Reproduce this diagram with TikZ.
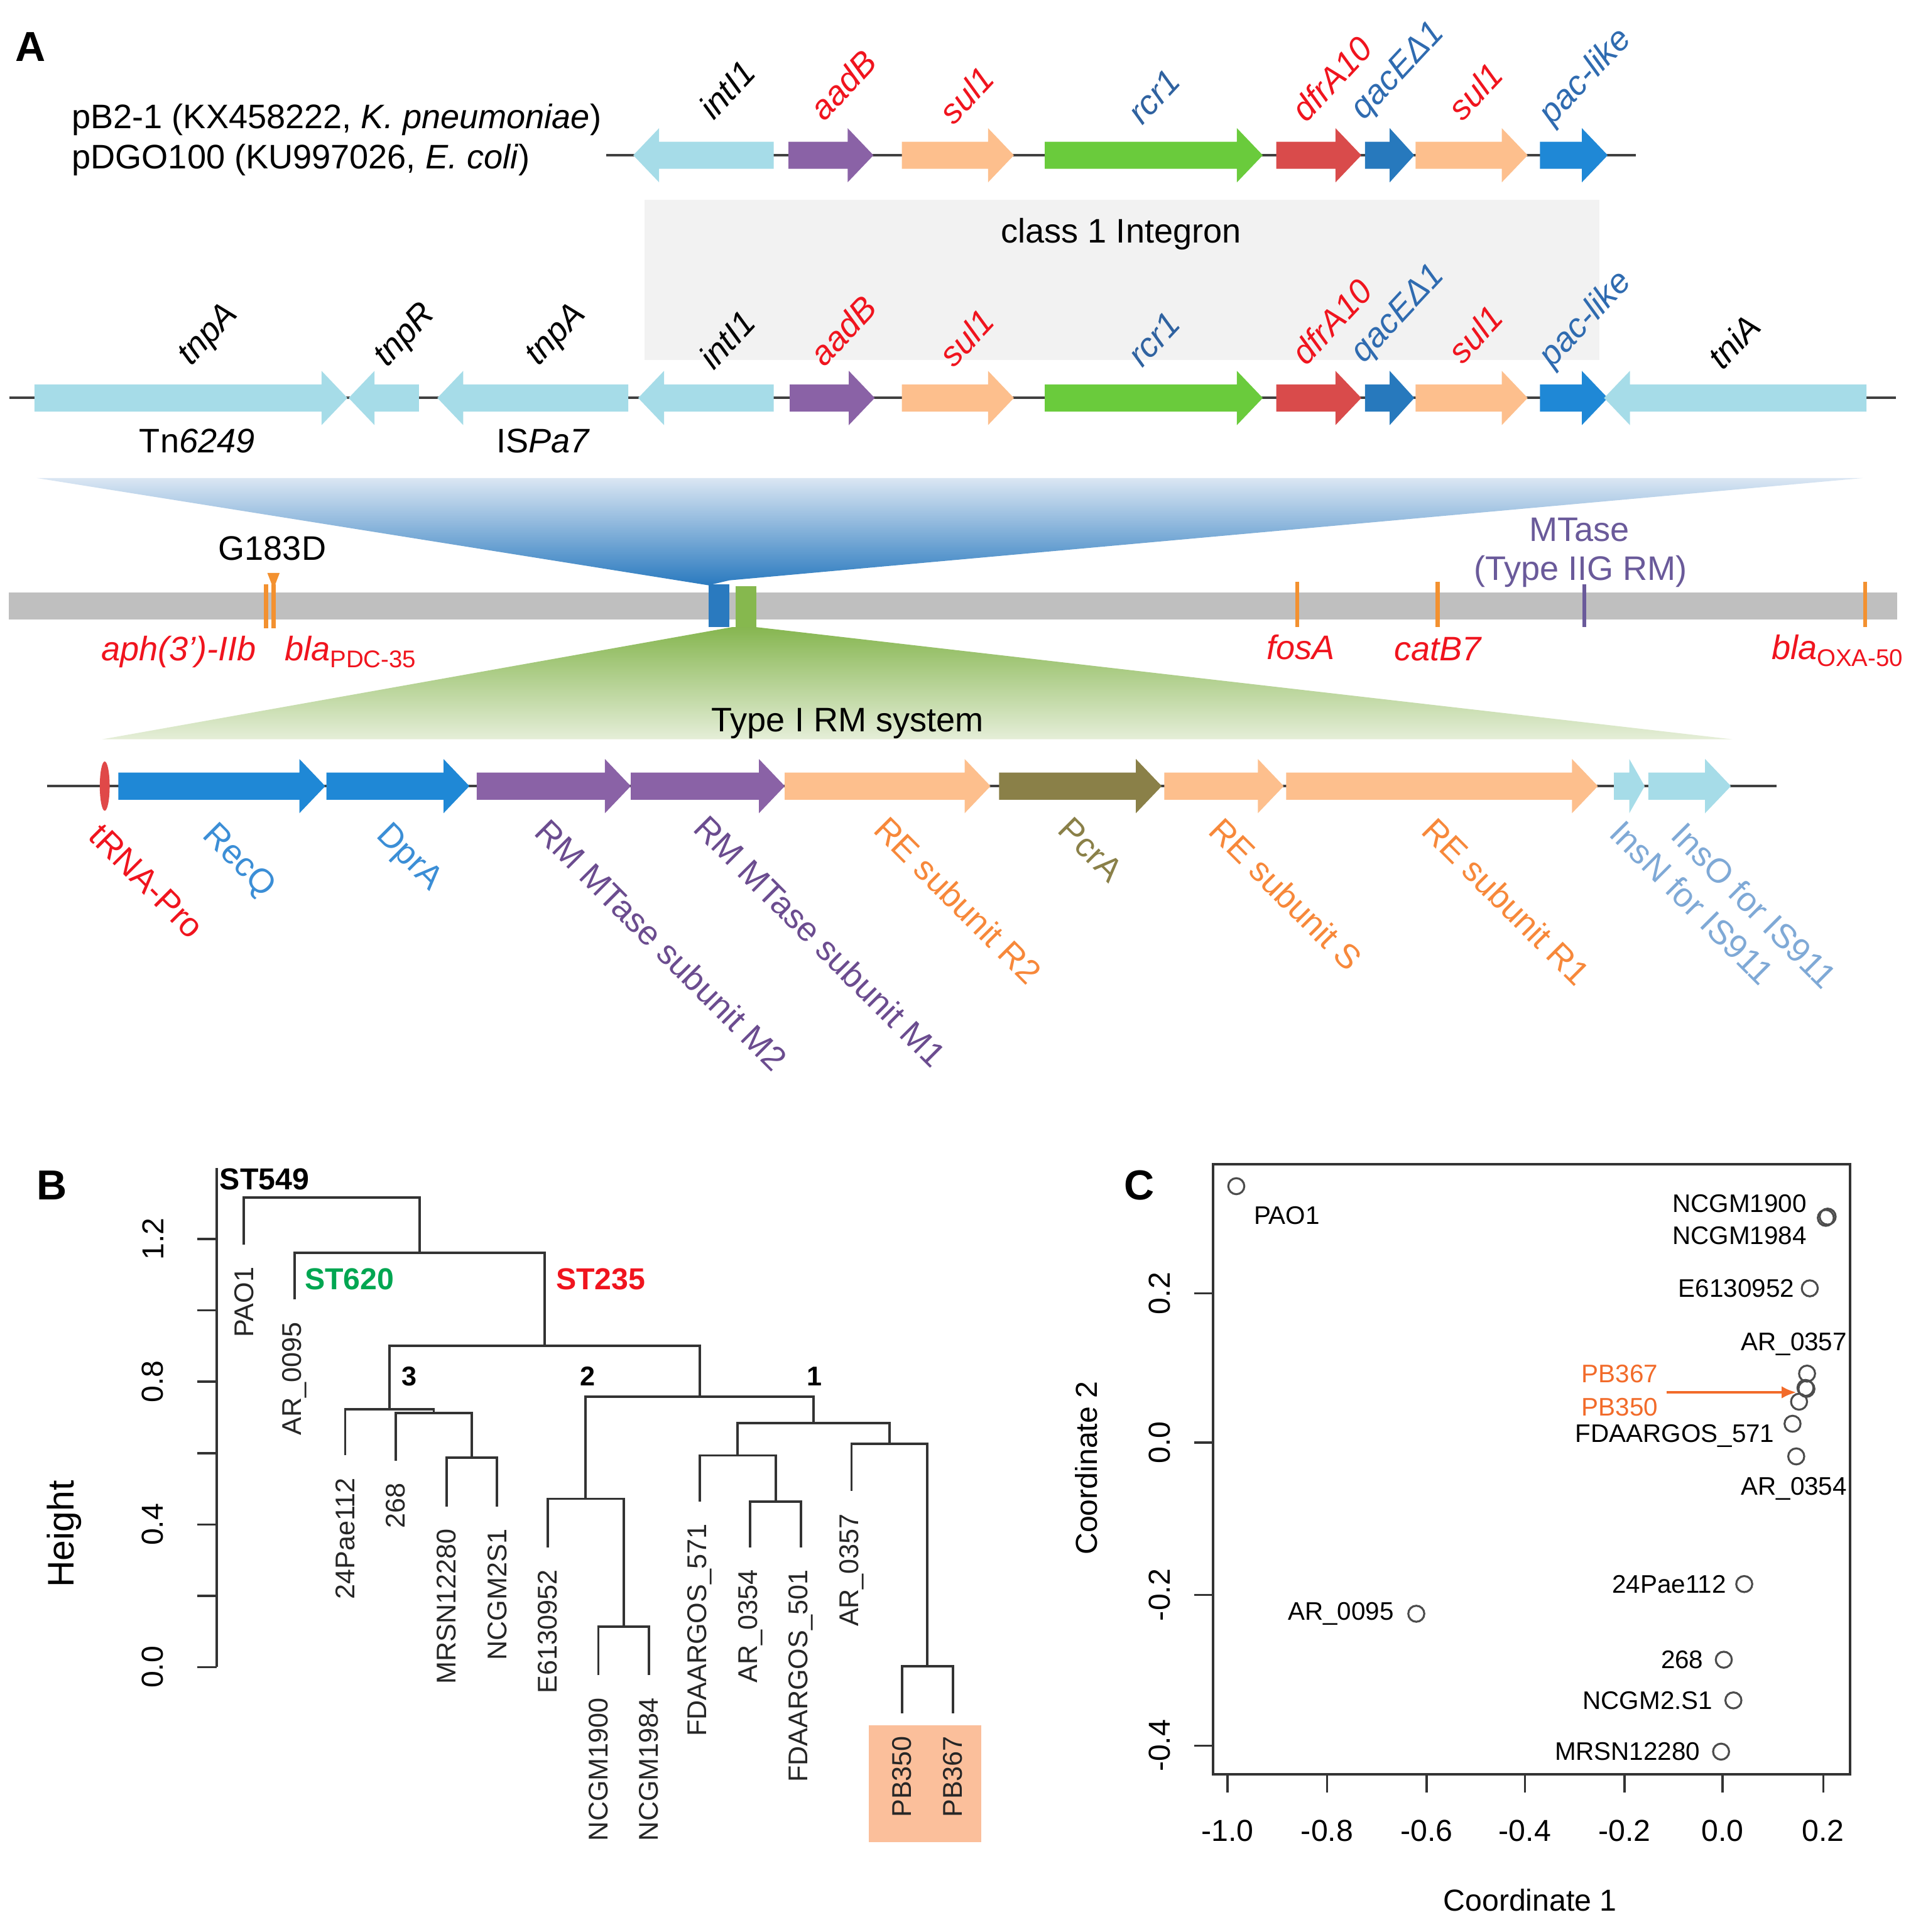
\documentclass[tikz,border=0pt]{standalone}
\usepackage{fontspec}
\setmainfont{Liberation Sans}
\usetikzlibrary{arrows.meta}
\definecolor{glb}{HTML}{A6DCE8}
\definecolor{gpu}{HTML}{8A62A6}
\definecolor{gor}{HTML}{FDBF8D}
\definecolor{ggr}{HTML}{6ACB3C}
\definecolor{grd}{HTML}{D94B4B}
\definecolor{gqb}{HTML}{2779BD}
\definecolor{gbl}{HTML}{1F88D6}
\definecolor{gol}{HTML}{8A8048}
\definecolor{tred}{HTML}{F0141E}
\definecolor{tsb}{HTML}{2F62A0}
\definecolor{tsq}{HTML}{2F6BB0}
\definecolor{tbl}{HTML}{3B8ED6}
\definecolor{tpu}{HTML}{6B4C8F}
\definecolor{tor}{HTML}{F7883A}
\definecolor{tib}{HTML}{7FA9D6}
\definecolor{tkor}{HTML}{F39130}
\definecolor{mtp}{HTML}{6A5A9A}
\definecolor{bargray}{HTML}{BFBFBF}
\definecolor{boxgray}{HTML}{F2F2F2}
\definecolor{stg}{HTML}{00A651}
\definecolor{salmon}{HTML}{FBBF9B}
\definecolor{ptor}{HTML}{F26B2A}
\definecolor{fbtop}{HTML}{DAE6F3}
\definecolor{fbbot}{HTML}{2A7ABF}
\definecolor{fgtop}{HTML}{86B650}
\definecolor{fgbot}{HTML}{E5EED8}
\definecolor{bargreen}{HTML}{86B84E}
\definecolor{trna}{HTML}{E04848}
\newcommand\fsA{\fontsize{13.8pt}{16pt}\selectfont}
\newcommand\fsB{\fontsize{11pt}{13pt}\selectfont}
\newcommand\fsC{\fontsize{10.3pt}{12pt}\selectfont}
\newcommand\fsT{\fontsize{12.3pt}{14pt}\selectfont}
\newcommand\fsP{\fontsize{17pt}{20pt}\selectfont}
\newcommand\gsub[1]{\raisebox{-3pt}{\fontsize{9.8pt}{11pt}\selectfont #1}}
\newcommand\gene[4]{%
 \pgfmathsetmacro\gdir{(#2>#1)?1:-1}%
 \pgfmathsetmacro\hx{#2-\gdir*min(21,0.5*abs(#2-#1))}%
 \fill[#4] (#1,#3-11) -- (\hx,#3-11) -- (\hx,#3-22) -- (#2,#3) -- (\hx,#3+22) -- (\hx,#3+11) -- (#1,#3+11) -- cycle;}
\newcommand\dmerge[5]{\draw[dend] (#1,#2) -- (#1,#5) -- (#3,#5) -- (#3,#4);}
\begin{document}
\begin{tikzpicture}[x=0.5pt,y=-0.5pt,
  glab/.style={font=\fsA\itshape, anchor=base west, rotate=47, inner sep=0, xshift=3pt},
  rlab/.style={font=\fsA, anchor=north west, rotate=-45, inner sep=0},
  dna/.style={line width=1pt, black!75},
  tk/.style={line width=1.6pt, tkor},
  dend/.style={line width=1pt, black!80},
  lf/.style={font=\fsB, rotate=90, anchor=east, inner sep=0, text=black!85},
  axl/.style={line width=0.9pt, black!80},
  tkl/.style={font=\fsT, inner sep=0},
  pt/.style={circle, draw=black!70, line width=0.8pt, minimum size=6.5pt, inner sep=0},
  cl/.style={font=\fsC, inner sep=0},
  panel/.style={font=\fsP\bfseries, inner sep=0}]
\useasboundingbox (0,0) rectangle (1551,1568);
\fill[white] (0,0) rectangle (1551,1568);

% ---------------- Panel A ----------------
\node[panel] (lA) at (25,38) {A};
\node[anchor=west, font=\fsA, inner sep=0] (pb21) at (58,97) {pB2-1 (KX458222, \textit{K. pneumoniae})};
\node[anchor=west, font=\fsA, inner sep=0] (pdgo) at (58,130) {pDGO100 (KU997026, \textit{E. coli})};

% integron box
\fill[boxgray] (523,162) rectangle (1298,292);
\node[font=\fsA] (integ) at (910,190) {class 1 Integron};

% top row
\draw[dna] (492,126) -- (1328,126);
\gene{628}{514}{126}{glb}
\gene{640}{709}{126}{gpu}
\gene{732}{823}{126}{gor}
\gene{848}{1025}{126}{ggr}
\gene{1036}{1105}{126}{grd}
\gene{1108}{1148}{126}{gqb}
\gene{1149}{1240}{126}{gor}
\gene{1250}{1305}{126}{gbl}
\node[glab] (a1) at (575,103) {intI1};
\node[glab, text=tred] (a2) at (665,104) {aadB};
\node[glab, text=tred] (a3) at (770,107) {sul1};
\node[glab, text=tsb] (a4) at (923,107) {rcr1};
\node[glab, text=tred] (a5) at (1056,105) {dfrA10};
\node[glab, text=tsq] (a6) at (1103,103) {qacEΔ1};
\node[glab, text=tred] (a7) at (1183,104) {sul1};
\node[glab, text=tsq] (a8) at (1256,107) {pac-like};

% second row
\draw[dna] (7.5,323) -- (1539,323);
\gene{28}{282}{323}{glb}
\gene{340}{283}{323}{glb}
\gene{510}{355}{323}{glb}
\gene{628}{518}{323}{glb}
\gene{641}{710}{323}{gpu}
\gene{732}{823}{323}{gor}
\gene{848}{1025}{323}{ggr}
\gene{1036}{1105}{323}{grd}
\gene{1108}{1148}{323}{gqb}
\gene{1149}{1240}{323}{gor}
\gene{1250}{1305}{323}{gbl}
\gene{1515}{1302}{323}{glb}
\node[glab] (b1) at (151,302) {tnpA};
\node[glab] (b2) at (310,303) {tnpR};
\node[glab] (b3) at (433,302) {tnpA};
\node[glab] (b4) at (575,306) {intI1};
\node[glab, text=tred] (b5) at (665,303) {aadB};
\node[glab, text=tred] (b6) at (770,304) {sul1};
\node[glab, text=tsb] (b7) at (923,304) {rcr1};
\node[glab, text=tred] (b8) at (1056,302) {dfrA10};
\node[glab, text=tsq] (b9) at (1103,300) {qacEΔ1};
\node[glab, text=tred] (b10) at (1183,301) {sul1};
\node[glab, text=tsq] (b11) at (1256,304) {pac-like};
\node[glab] (b12) at (1394,306) {tniA};
\node[font=\fsA] (tn) at (160,358) {Tn\textit{6249}};
\node[font=\fsA] (isp) at (441,358) {IS\textit{Pa7}};

% funnels
\shade[top color=fbtop, bottom color=fbbot]
  (30,388) -- (1512,388) -- (592,471) -- (575,475) -- cycle;
\shade[top color=fgtop, bottom color=fgbot]
  (594,509) -- (614,509) -- (1406,600) -- (83,600) -- cycle;

% chromosome bar
\fill[bargray] (7,481) rectangle (1540,503);
\fill[fbbot] (575,474) rectangle (592,509);
\fill[bargreen] (597,476) rectangle (614,509);
\draw[tk] (216,474) -- (216,510);
\draw[tk] (222,474) -- (222,510);
\fill[tkor] (217,465) -- (227,465) -- (222,478) -- cycle;
\draw[tk] (1053,472) -- (1053,509);
\draw[tk] (1167,472) -- (1167,509);
\draw[tk] (1514,472) -- (1514,509);
\draw[line width=1.6pt, mtp] (1286,474) -- (1286,509);
\node[font=\fsA] (g183) at (221,445) {G183D};
\node[font=\fsA\itshape, text=tred, anchor=base] (aph) at (145,536) {aph(3’)-IIb};
\node[font=\fsA, text=tred, anchor=base west] (pdc) at (224,536) {\textit{bla}\gsub{PDC-35}};
\node[font=\fsA\itshape, text=tred, anchor=base] (fos) at (1056,535) {fosA};
\node[font=\fsA\itshape, text=tred, anchor=base] (cat) at (1167,536) {catB7};
\node[font=\fsA, text=tred, anchor=base west] (oxa) at (1431,535) {\textit{bla}\gsub{OXA-50}};
\node[font=\fsA, text=mtp] (mt1) at (1282,430) {MTase};
\node[font=\fsA, text=mtp] (mt2) at (1283,464) {(Type IIG RM)};
\node[font=\fsA] (rmsys) at (688,587) {Type I RM system};

% RM row
\draw[dna] (38,638) -- (1442,638);
\fill[trna] (85,638) ellipse [x radius=2pt, y radius=10pt];
\gene{96}{264}{638}{gbl}
\gene{265}{381}{638}{gbl}
\gene{387}{512}{638}{gpu}
\gene{512}{637}{638}{gpu}
\gene{637}{804}{638}{gor}
\gene{811}{943}{638}{gol}
\gene{945}{1042}{638}{gor}
\gene{1044}{1297}{638}{gor}
\gene{1310}{1335}{638}{glb}
\gene{1338}{1405}{638}{glb}
\node[rlab, text=tred] (r1) at (84,666) {tRNA-Pro};
\node[rlab, text=tbl] (r2) at (177,665) {RecQ};
\node[rlab, text=tbl] (r3) at (318,665) {DprA};
\node[rlab, text=tpu] (r4) at (447,662) {RM MTase subunit M2};
\node[rlab, text=tpu] (r5) at (576,659) {RM MTase subunit M1};
\node[rlab, text=tor] (r6) at (722,660) {RE subunit R2};
\node[rlab, text=gol] (r7) at (871,661) {PcrA};
\node[rlab, text=tor] (r8) at (994,661) {RE subunit S};
\node[rlab, text=tor] (r9) at (1167,661) {RE subunit R1};
\node[rlab, text=tib] (r10) at (1319,663) {InsN for IS911};
\node[rlab, text=tib] (r11) at (1369,665) {InsO for IS911};

% ---------------- Panel B ----------------
\node[panel] (lB) at (42,962) {B};
\fill[salmon] (705,1400) rectangle (796.5,1495);
\draw[axl] (176,947.8) -- (176,1353);
\foreach \yy in {1353,1295.1,1237.2,1179.3,1121.4,1063.5,1005.6} {\draw[axl] (176,\yy) -- (160,\yy);}
\node[tkl, rotate=90] (bt0) at (124,1353) {0.0};
\node[tkl, rotate=90] (bt4) at (124,1237.2) {0.4};
\node[tkl, rotate=90] (bt8) at (124,1121.4) {0.8};
\node[tkl, rotate=90] (bt12) at (124,1005.6) {1.2};
\node[font=\fontsize{15pt}{17pt}\selectfont, rotate=90] (height) at (52,1245) {Height};

\dmerge{732.3}{1390.5}{773.4}{1390.5}{1352.4}
\dmerge{691.2}{1210}{752.85}{1352.4}{1171.6}
\dmerge{609}{1255.8}{650.1}{1255.8}{1218.5}
\dmerge{567.9}{1218.5}{629.55}{1218.5}{1181.2}
\dmerge{598.7}{1181.2}{722}{1171.6}{1155}
\dmerge{485.7}{1359.5}{526.8}{1359.5}{1320}
\dmerge{444.6}{1255.8}{506.25}{1320}{1216.4}
\dmerge{475.4}{1216.4}{660.4}{1155}{1133.5}
\dmerge{362.4}{1222.6}{403.5}{1222.6}{1183}
\dmerge{321.3}{1185.3}{383}{1183}{1146.8}
\dmerge{280.2}{1181}{352.1}{1146.8}{1143.8}
\dmerge{316.2}{1143.8}{567.9}{1133.5}{1092}
\dmerge{239.1}{1054.7}{442}{1092}{1016.6}
\dmerge{198}{1010}{340.6}{1016.6}{971.8}

\node[lf] (lPAO1) at (198,1028) {PAO1};
\node[lf] (lAR95) at (239.1,1072.7) {AR\_0095};
\node[lf] (l24P) at (280.2,1199) {24Pae112};
\node[lf] (l268) at (321.3,1203.3) {268};
\node[lf] (lMRSN) at (362.4,1240.6) {MRSN12280};
\node[lf] (lNC2) at (403.5,1240.6) {NCGM2S1};
\node[lf] (lE61) at (444.6,1273.8) {E6130952};
\node[lf] (lN1900) at (485.7,1377.5) {NCGM1900};
\node[lf] (lN1984) at (526.8,1377.5) {NCGM1984};
\node[lf] (lF571) at (567.9,1236.5) {FDAARGOS\_571};
\node[lf] (lAR354) at (609,1273.8) {AR\_0354};
\node[lf] (lF501) at (650.1,1273.8) {FDAARGOS\_501};
\node[lf] (lAR357) at (691.2,1228) {AR\_0357};
\node[lf] (lPB350) at (732.3,1408.5) {PB350};
\node[lf] (lPB367) at (773.4,1408.5) {PB367};

\node[font=\fsT\bfseries, anchor=west, inner sep=0] (st549) at (178,957) {ST549};
\node[font=\fsT\bfseries, anchor=west, inner sep=0, text=stg] (st620) at (247,1038) {ST620};
\node[font=\fsT\bfseries, anchor=west, inner sep=0, text=tred] (st235) at (451,1038) {ST235};
\node[font=\fsB\bfseries, inner sep=0] (c3) at (332,1117) {3};
\node[font=\fsB\bfseries, inner sep=0] (c2) at (477,1117) {2};
\node[font=\fsB\bfseries, inner sep=0] (c1) at (661,1117) {1};

% ---------------- Panel C ----------------
\node[panel] (lC) at (925,962) {C};
\draw[axl] (984.7,944.8) rectangle (1501.6,1440);
\foreach \xx/\lab [count=\i] in {996.5/-1.0,1077.2/-0.8,1157.9/-0.6,1237.7/-0.4,1318.5/-0.2,1398.3/0.0,1479.9/0.2} {
  \draw[axl] (\xx,1440) -- (\xx,1455);
  \node[tkl] (cx\i) at (\xx,1486) {\lab};}
\foreach \yy/\lab [count=\i] in {1049.7/0.2,1170.8/0.0,1294.4/-0.2,1416.7/-0.4} {
  \draw[axl] (984.7,\yy) -- (969.4,\yy);
  \node[tkl, rotate=90] (cy\i) at (941,\yy) {\lab};}
\node[tkl] (cxlab) at (1242,1542) {Coordinate 1};
\node[tkl, rotate=90] (cylab) at (882,1191.5) {Coordinate 2};

\node[pt] (cPAO1) at (1003.5,962.7) {};
\node[pt] (cN1900) at (1482,988.4) {};
\node[pt] (cN1984) at (1483.5,987.4) {};
\node[pt] (cE61) at (1469,1045.6) {};
\node[pt] (cAR357) at (1466.8,1114.8) {};
\node[pt] (cPB367) at (1465.5,1126.4) {};
\node[pt] (cPB367b) at (1466.3,1127.2) {};
\node[pt] (cPB350) at (1460.3,1137.6) {};
\node[pt] (cF571) at (1455,1155.5) {};
\node[pt] (cAR354) at (1458,1182) {};
\node[pt] (c24P) at (1415.8,1285.6) {};
\node[pt] (cAR95) at (1149.6,1309.7) {};
\node[pt] (c268) at (1399.2,1347) {};
\node[pt] (cNC2) at (1407,1380) {};
\node[pt] (cMRSN) at (1397,1421.6) {};

\node[cl, anchor=west] (tPAO1) at (1017.4,986.3) {PAO1};
\node[cl, anchor=east] (tN1900) at (1466.8,976.8) {NCGM1900};
\node[cl, anchor=east] (tN1984) at (1466.8,1002.9) {NCGM1984};
\node[cl, anchor=east] (tE61) at (1456.8,1045.6) {E6130952};
\node[cl, anchor=east] (tAR357) at (1499.5,1091) {AR\_0357};
\node[cl, anchor=west, text=ptor] (tPB367) at (1283.5,1114.8) {PB367};
\node[cl, anchor=west, text=ptor] (tPB350) at (1283.5,1141.8) {PB350};
\node[cl, anchor=east] (tF571) at (1440.6,1165.4) {FDAARGOS\_571};
\node[cl, anchor=east] (tAR354) at (1499.5,1208) {AR\_0354};
\node[cl, anchor=east] (t24P) at (1401.4,1285.6) {24Pae112};
\node[cl, anchor=east] (tAR95) at (1131.7,1309.7) {AR\_0095};
\node[cl, anchor=east] (t268) at (1383,1347) {268};
\node[cl, anchor=east] (tNC2) at (1390.5,1380) {NCGM2.S1};
\node[cl, anchor=east] (tMRSN) at (1380.4,1421.6) {MRSN12280};
\coordinate (arrS) at (1353,1130);
\draw[ptor, line width=1.2pt, -{Latex[length=6pt,width=5pt]}] (arrS) -- (arrS -| cPB367.west);
\end{tikzpicture}
\end{document}
